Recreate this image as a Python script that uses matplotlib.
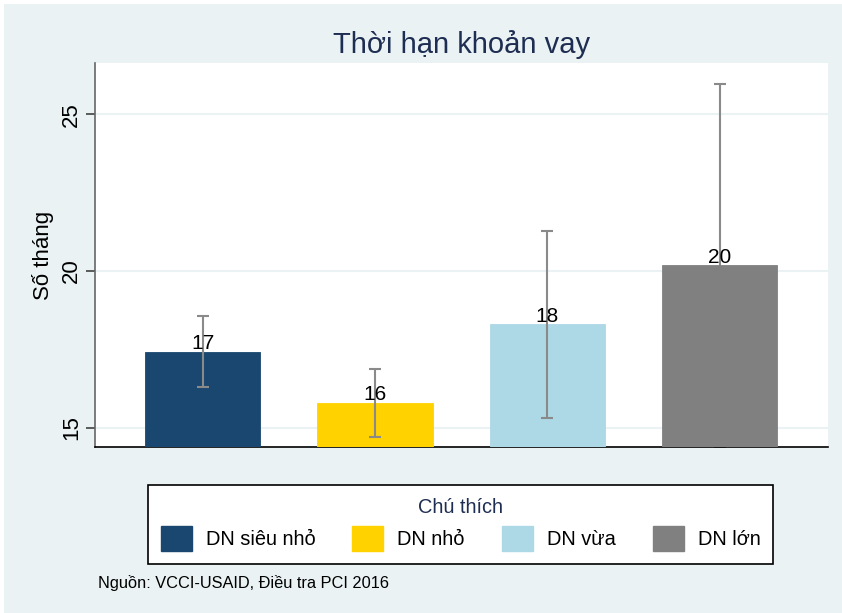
import matplotlib.pyplot as plt
from matplotlib.patches import Patch, Rectangle

plt.rcParams['font.family'] = ['Liberation Sans', 'DejaVu Sans']

# data
groups = ['DN siêu nhỏ', 'DN nhỏ', 'DN vừa', 'DN lớn']
months = [17.43, 15.79, 18.30, 20.18]
ci_low = [16.30, 14.71, 15.32, 14.39]
ci_high = [18.55, 16.86, 21.27, 25.97]
labels = ['17', '16', '18', '20']

colors = ['#1a476f', '#ffd200', '#add8e6', '#808080']
err_on_top = [True, True, True, False]
bg = '#eaf2f3'

W, H = 842, 613
fig = plt.figure(figsize=(W / 100, H / 100), dpi=100)
fig.patch.set_facecolor(bg)
# thin white strip along top and left edge
fig.patches.append(Rectangle((0, 1 - 4 / H), 1, 4 / H, transform=fig.transFigure,
                             facecolor='white', edgecolor='none', zorder=-10))
fig.patches.append(Rectangle((0, 0), 4 / W, 1, transform=fig.transFigure,
                             facecolor='white', edgecolor='none', zorder=-10))

ax = fig.add_axes([95 / W, 1 - 447 / H, (828 - 95) / W, (447 - 63) / H])
ax.set_facecolor('white')

x = list(range(len(groups)))
bars = ax.bar(x, months, width=0.669, color=colors, edgecolor=colors,
              linewidth=0.6, zorder=3)

for i in x:
    z = 4 if err_on_top[i] else 2
    ax.errorbar(i, months[i], yerr=[[months[i] - ci_low[i]], [ci_high[i] - months[i]]],
                fmt='none', ecolor='#8a8a8a', elinewidth=1.5, capsize=4.5,
                capthick=1.5, zorder=z)
    ax.annotate(labels[i], (i, months[i]), xytext=(0, 2), textcoords='offset points',
                ha='center', va='baseline', fontsize=15, color='black', zorder=5)

ax.set_xlim(-0.625, 3.628)
ax.set_ylim(14.385, 26.64)
ax.set_yticks([15, 20, 25])
ax.set_xticks([])
ax.grid(axis='y', color=bg, linewidth=1.5, zorder=0)
ax.set_axisbelow(True)

for s in ['top', 'right']:
    ax.spines[s].set_visible(False)
ax.spines['left'].set_color('#666666')
ax.spines['left'].set_linewidth(1.2)
ax.spines['bottom'].set_color('black')
ax.spines['bottom'].set_linewidth(1.2)

ax.tick_params(axis='y', length=6.5, width=1.1, color='#333333', pad=3,
               labelsize=16, labelcolor='black')
for t in ax.get_yticklabels():
    t.set_rotation(90)
    t.set_va('center')

ax.set_ylabel('Số tháng', fontsize=16, color='black')
ax.yaxis.set_label_coords(-0.056, 0.5)

fig.text((95 + 828) / 2 / W, 1 - 53 / H, 'Thời hạn khoản vay', ha='center',
         va='baseline', fontsize=21, color='#1e2d52')

handles = [Patch(facecolor=c, edgecolor=c) for c in colors]
leg = fig.legend(handles, groups, loc='center',
                 bbox_to_anchor=(460.5 / W, 1 - 524.5 / H), ncol=4,
                 title='Chú thích', fontsize=14.4, title_fontsize=14.4,
                 handlelength=1.55, handleheight=1.5, handletextpad=0.7,
                 columnspacing=1.85, borderpad=0.65, labelspacing=0.45,
                 frameon=True, fancybox=False, framealpha=1)
leg.get_title().set_color('#1e2d52')
frame = leg.get_frame()
frame.set_edgecolor('black')
frame.set_linewidth(1.2)
frame.set_facecolor('white')

fig.text(98 / W, 1 - 583 / H, 'Nguồn: VCCI-USAID, Điều tra PCI 2016', ha='left',
         va='center', fontsize=11.8, color='black')

fig.savefig('out.png', dpi=100, facecolor=fig.get_facecolor())
